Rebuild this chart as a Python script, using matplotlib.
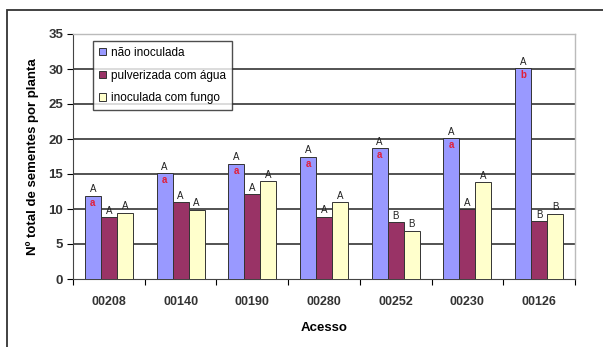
import matplotlib
matplotlib.use("Agg")
import matplotlib.pyplot as plt
import numpy as np
from matplotlib.patches import Rectangle

acessos = ["00208", "00140", "00190", "00280", "00252", "00230", "00126"]
nao_inoculada = [11.9, 15.1, 16.5, 17.5, 18.7, 20.1, 30.1]
pulverizada = [8.8, 11.0, 12.1, 8.9, 8.1, 10.0, 8.3]
inoculada = [9.5, 9.9, 14.0, 11.0, 6.9, 13.8, 9.3]
letras_nao = ["A", "A", "A", "A", "A", "A", "A"]
letras_nao_red = ["a", "a", "a", "a", "a", "a", "b"]
letras_pulv = ["A", "A", "A", "A", "B", "A", "B"]
letras_inoc = ["A", "A", "A", "A", "B", "A", "B"]
series_labels = ["não inoculada", "pulverizada com água", "inoculada com fungo"]
colors = ["#9999FF", "#993366", "#FFFFCC"]

plt.rcParams["font.family"] = ["Liberation Sans", "DejaVu Sans"]

fig = plt.figure(figsize=(6.03, 3.47), dpi=100)
W, H = 603, 347
ax = fig.add_axes([73 / W, 1 - 279 / H, (575 - 73) / W, (279 - 34) / H])

# outer chart frame
fig.patches.append(Rectangle((7 / W, -0.05), 1.1, 1 - 10 / H + 0.05,
                             transform=fig.transFigure, fill=False,
                             edgecolor="#333333", linewidth=1.3))

x = np.arange(len(acessos))
w = 0.223
data = [nao_inoculada, pulverizada, inoculada]
tops = [letras_nao, letras_pulv, letras_inoc]
for i, (vals, col, lab, lets) in enumerate(zip(data, colors, series_labels, tops)):
    xs = x + (i - 1) * w
    ax.bar(xs, vals, width=w, color=col, edgecolor="#333333", linewidth=0.7,
           label=lab, zorder=3)
    for xi, v, t in zip(xs, vals, lets):
        ax.text(xi, v + 0.2, t, ha="center", va="bottom", fontsize=7,
                color="#222222", zorder=4)
    if i == 0:
        for xi, v, t in zip(xs, vals, letras_nao_red):
            ax.text(xi, v - 0.3, t, ha="center", va="top", fontsize=7,
                    color="#E0203A", fontweight="bold", zorder=4)

ax.set_xlim(-0.5, len(acessos) - 0.5)
ax.set_ylim(0, 35)
ax.set_yticks(range(0, 36, 5))
ax.set_xticks(x)
ax.set_xticklabels(acessos, fontsize=9, fontweight="bold", color="#333333")
ax.tick_params(axis="y", labelsize=9.5, length=4, width=0.8, pad=3,
               labelcolor="#333333")
ax.tick_params(axis="x", length=0, pad=12)
ax.set_xticks(np.arange(-0.5, len(acessos), 1), minor=True)
ax.tick_params(axis="x", which="minor", length=4, width=0.8, direction="out")
for lab in ax.get_yticklabels():
    lab.set_fontweight("bold")

for yv in range(5, 35, 5):
    ax.axhline(yv, color="#444444", linewidth=1.3, zorder=1)

for s in ["top", "right"]:
    ax.spines[s].set_color("#BBBBBB")
    ax.spines[s].set_linewidth(1.0)
ax.spines["left"].set_color("#444444")
ax.spines["bottom"].set_color("#444444")

ax.set_ylabel("Nº total de sementes por planta", fontsize=9.5, fontweight="bold",
              labelpad=7)
ax.set_xlabel("Acesso", fontsize=9.5, fontweight="bold", labelpad=10)

leg = ax.legend(loc="upper left", bbox_to_anchor=(20 / 502, 1 - 7 / 245),
                fontsize=8.5, frameon=True, fancybox=False, edgecolor="#222222",
                handlelength=0.6, handleheight=0.6, handletextpad=0.4,
                borderpad=0.5, labelspacing=0.9, borderaxespad=0)
leg.get_frame().set_linewidth(1.0)
leg.set_zorder(5)

fig.savefig("out.png", dpi=100)
